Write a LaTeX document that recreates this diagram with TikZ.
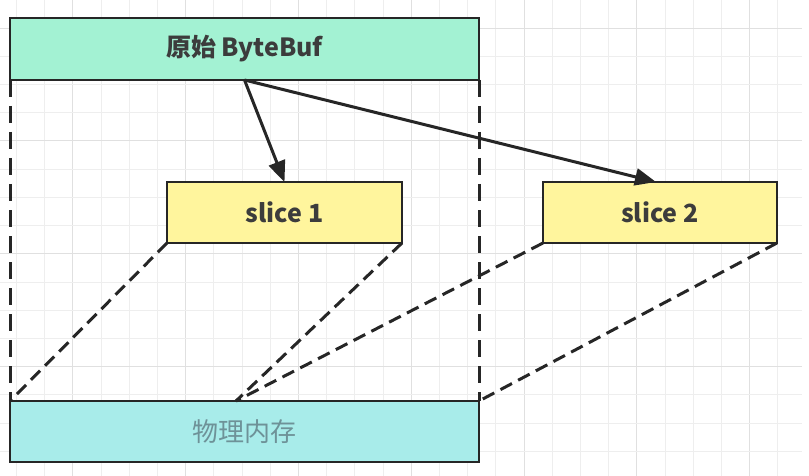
\documentclass[tikz,border=0pt]{standalone}
\usepackage{fontspec}
\setmainfont{Noto Sans CJK SC}
\usetikzlibrary{arrows.meta,calc}
\definecolor{gridminor}{HTML}{EEEEEE}
\definecolor{gridmajor}{HTML}{E0E0E0}
\definecolor{origfill}{HTML}{A3F2D3}
\definecolor{slicefill}{HTML}{FFF59D}
\definecolor{memfill}{HTML}{A8ECEA}
\definecolor{edge}{HTML}{262626}
\definecolor{memtext}{HTML}{6E9298}
\tikzset{
  box/.style={draw=edge, line width=2.5pt, anchor=north west, inner sep=0pt, outer sep=0pt,
    font=\fontsize{25}{29}\selectfont\bfseries, text=edge!90!white},
  link/.style={draw=edge, line width=3pt, -{Triangle[length=21pt,width=17pt]}},
  proj/.style={draw=edge, line width=3pt, dash pattern=on 13pt off 7pt},
  projv/.style={proj, dash pattern=on 17pt off 9pt},
}
\begin{document}
\begin{tikzpicture}[x=1pt,y=-1pt]
\useasboundingbox (0,0) rectangle (809,476);
\fill[white] (0,0) rectangle (809,476);
% grid
\foreach \k in {0,...,27}{
  \pgfmathtruncatemacro{\m}{mod(\k,4)}
  \ifnum\m=2
    \draw[gridmajor, line width=1pt] ({16.5+28.2*\k},0) -- ({16.5+28.2*\k},476);
  \else
    \draw[gridminor, line width=1pt] ({16.5+28.2*\k},0) -- ({16.5+28.2*\k},476);
  \fi
}
\foreach \k in {1,...,16}{
  \pgfmathtruncatemacro{\m}{mod(\k,4)}
  \ifnum\m=1
    \draw[gridmajor, line width=1pt] (0,{28.2*\k}) -- (802,{28.2*\k});
  \else
    \draw[gridminor, line width=1pt] (0,{28.2*\k}) -- (802,{28.2*\k});
  \fi
}
% nodes
\node[box, fill=origfill, minimum width=469pt, minimum height=62pt] (orig) at (10,18) {原始 ByteBuf};
\node[box, fill=slicefill, minimum width=235pt, minimum height=61pt] (s1) at (167,182) {slice 1};
\node[box, fill=slicefill, minimum width=234pt, minimum height=61pt] (s2) at (543,182) {slice 2};
\node[box, fill=memfill, minimum width=469pt, minimum height=61pt, text=memtext,
  font=\fontsize{26}{30}\selectfont] (mem) at (10,401) {物理内存};
\coordinate (m) at (236,401);
% dashed projections
\draw[projv] (orig.south west) -- (mem.north west);
\draw[projv] (orig.south east) -- (mem.north east);
\draw[proj] (s1.south west) -- (mem.north west);
\draw[proj] (s1.south east) -- (m);
\draw[proj] (s2.south west) -- (m);
\draw[proj] (s2.south east) -- (mem.north east);
% arrows
\draw[link] (orig.south) -- (s1.north);
\draw[link] (orig.south) -- ($(s2.north)+(-4,0)$);
\end{tikzpicture}
\end{document}
